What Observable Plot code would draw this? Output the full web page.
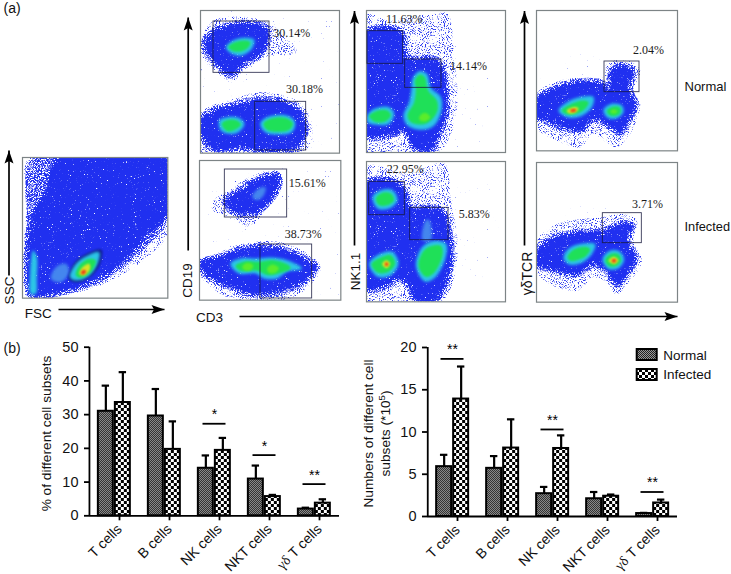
<!DOCTYPE html>
<html>
<head>
<meta charset="utf-8">
<script src="https://cdn.jsdelivr.net/npm/d3@7"></script>
<script src="https://cdn.jsdelivr.net/npm/@observablehq/plot@0.6"></script>
<style>
html,body{margin:0;padding:0;background:#fff}
#page{position:relative;width:731px;height:574px;overflow:hidden;background:#fff}
#page svg{position:absolute}
.fuzz{filter:url(#fuzz)}
.dots{filter:url(#dots)}
.dense{filter:url(#dense)}
.far{filter:url(#far)}
.soft{filter:url(#soft)}
.softer{filter:url(#softer)}
</style>
</head>
<body>
<div id="page">
<svg width="0" height="0" style="position:absolute">
<defs>
<pattern id="fine" width="2" height="2" patternUnits="userSpaceOnUse">
<rect width="2" height="2" fill="#9a9a9a"/><rect width="1" height="1" fill="#222"/><rect x="1" y="1" width="1" height="1" fill="#222"/>
</pattern>
<pattern id="coarse" width="6" height="6" patternUnits="userSpaceOnUse">
<rect width="6" height="6" fill="#fff"/><rect width="3" height="3" fill="#000"/><rect x="3" y="3" width="3" height="3" fill="#000"/>
</pattern>
<filter id="fuzz" x="-15%" y="-15%" width="130%" height="130%" color-interpolation-filters="sRGB">
<feTurbulence type="fractalNoise" baseFrequency="0.85" numOctaves="2" seed="4" result="n"/>
<feDisplacementMap in="SourceGraphic" in2="n" scale="10" xChannelSelector="R" yChannelSelector="G" result="d"/>
<feColorMatrix in="n" type="matrix" values="0 0 0 0 0 0 0 0 0 0 0 0 0 0 0 0 9 0 0 -2.1" result="m"/>
<feComposite in="d" in2="m" operator="in"/>
</filter>
<filter id="dense" x="-15%" y="-15%" width="130%" height="130%" color-interpolation-filters="sRGB">
<feTurbulence type="fractalNoise" baseFrequency="0.95" numOctaves="2" seed="7" result="n"/>
<feColorMatrix in="n" type="matrix" values="0 0 0 0 0 0 0 0 0 0 0 0 0 0 0 7 0 0 0 -3.0" result="m"/>
<feComposite in="SourceGraphic" in2="m" operator="in"/>
</filter>
<filter id="dots" x="-5%" y="-5%" width="110%" height="110%" color-interpolation-filters="sRGB">
<feTurbulence type="fractalNoise" baseFrequency="0.95" numOctaves="2" seed="9" result="n"/>
<feColorMatrix in="n" type="matrix" values="0 0 0 0 0 0 0 0 0 0 0 0 0 0 0 7 0 0 0 -3.8" result="m"/>
<feComposite in="SourceGraphic" in2="m" operator="in"/>
</filter>
<filter id="far" x="-5%" y="-5%" width="110%" height="110%" color-interpolation-filters="sRGB">
<feTurbulence type="fractalNoise" baseFrequency="0.6" numOctaves="1" seed="21" result="n"/>
<feColorMatrix in="n" type="matrix" values="0 0 0 0 0 0 0 0 0 0 0 0 0 0 0 9 0 0 0 -6.6" result="m"/>
<feComposite in="SourceGraphic" in2="m" operator="in"/>
</filter>
<filter id="soft" x="-20%" y="-20%" width="140%" height="140%" color-interpolation-filters="sRGB">
<feGaussianBlur stdDeviation="0.9"/>
</filter>
<filter id="softer" x="-20%" y="-20%" width="140%" height="140%" color-interpolation-filters="sRGB">
<feGaussianBlur stdDeviation="1.5"/>
</filter>
</defs>
</svg>
</div>
<script>
// ---------- bar chart values ----------
const cellTypes = ["T cells", "B cells", "NK cells", "NKT cells", "γδ T cells"];
const groups = ["Normal", "Infected"];
const pctNormal = [31.0, 29.6, 14.1, 10.9, 2.0];
const pctInfected = [33.6, 19.7, 19.4, 5.7, 3.75];
const pctNormalTop = [38.6, 37.6, 17.9, 14.9, 2.4];
const pctInfectedTop = [42.6, 28.0, 23.1, 6.2, 4.9];
const pctSig = [["NK cells", 27.3, "*"], ["NKT cells", 18.0, "*"], ["γδ T cells", 9.4, "**"]];
const numNormal = [5.9, 5.7, 2.7, 2.1, 0.35];
const numInfected = [13.9, 8.1, 8.05, 2.4, 1.6];
const numNormalTop = [7.3, 7.15, 3.5, 2.9, 0.43];
const numInfectedTop = [17.75, 11.5, 9.6, 2.6, 2.0];
const numSig = [["T cells", 18.65, "**"], ["NK cells", 10.3, "**"], ["γδ T cells", 2.9, "**"]];

// ---------- flow cytometry populations (outlines, in plot units) ----------
const fscShapes = [
  ["halo", [[85,472],[500,472],[500,700],[420,785],[320,845],[220,878],[90,893],[72,880],[78,600]]],
  ["dense", [[88,480],[180,472],[500,472],[500,660],[430,745],[380,790],[300,845],[200,880],[95,890],[82,700]]],
  ["body", [[135,570],[150,510],[175,472],[500,472],[500,640],[440,705],[380,770],[300,830],[200,868],[100,886],[87,878],[85,700],[100,630]]],
  ["pale", [[150,835],[165,800],[195,790],[205,815],[180,845]]],
  ["cyan", [[90,880],[88,820],[97,750],[108,770],[108,830],[105,880]]],
  ["navy", [[203,835],[222,785],[260,758],[302,748],[296,795],[262,834],[225,846]]],
  ["cyan", [[207,830],[225,790],[260,765],[295,755],[290,790],[262,828],[225,840]]],
  ["green", [[225,825],[235,795],[265,775],[285,780],[270,815],[240,832]]],
  ["yellow", [[235,820],[245,800],[265,790],[268,805],[250,825]]],
  ["red", [[240,818],[248,808],[256,812],[248,822]]]
];
const cd19nShapes = [
  ["far", [[640,35],[1010,35],[1010,450],[925,455],[900,250],[601,290]]],
  ["halo", [[601,130],[640,60],[770,55],[830,85],[890,155],[800,170],[730,210],[695,245],[650,215],[610,175]]],
  ["halo", [[601,340],[700,295],[780,275],[880,295],[925,340],[935,420],[900,458],[601,458]]],
  ["body", [[612,130],[640,95],[700,72],[770,72],[800,85],[805,115],[775,165],[730,190],[690,225],[660,200],[630,170]]],
  ["body", [[601,360],[640,330],[700,315],[760,300],[830,300],[890,325],[915,370],[905,420],[880,445],[780,450],[720,440],[650,450],[605,410]]],
  ["cyan", [[677,140],[695,122],[730,112],[762,118],[755,145],[725,165],[695,160]]],
  ["green", [[685,140],[700,127],[730,120],[750,125],[745,140],[725,152],[700,152]]],
  ["cyan", [[657,360],[680,350],[715,352],[733,370],[715,395],[685,400],[662,390]]],
  ["green", [[665,370],[685,358],[710,360],[722,372],[705,388],[680,392]]],
  ["cyan", [[780,370],[800,350],[860,345],[885,365],[875,395],[830,402],[795,395]]],
  ["green", [[790,370],[810,355],[855,352],[878,368],[868,388],[830,394],[800,388]]]
];
const cd19iShapes = [
  ["far", [[620,560],[850,500],[1010,500],[1010,890],[950,890],[960,760],[640,740]]],
  ["halo", [[640,600],[680,575],[730,540],[820,510],[845,530],[835,575],[800,625],[745,680],[690,650],[635,630]]],
  ["halo", [[597,790],[660,755],[730,730],[830,725],[920,760],[960,800],[935,850],[860,898],[700,898],[630,860],[597,820]]],
  ["body", [[675,600],[720,570],[790,530],[830,525],[835,555],[800,610],[760,640],[720,640],[690,630]]],
  ["body", [[600,790],[660,770],[730,745],[830,745],[900,770],[945,800],[925,830],[880,860],[810,880],[750,880],[690,860],[620,825]]],
  ["pale", [[755,590],[775,565],[795,562],[790,585],[770,600]]],
  ["cyan", [[690,790],[720,775],[770,775],[810,772],[860,780],[905,805],[860,815],[830,835],[790,835],[765,820],[715,820]]],
  ["green", [[705,797],[735,783],[775,785],[820,780],[865,795],[870,805],[835,820],[800,825],[770,812],[720,812]]],
  ["bright", [[725,800],[740,788],[758,795],[750,810],[732,810]]],
  ["bright", [[800,805],[815,793],[835,803],[825,818],[805,818]]]
];
const nknShapes = [
  ["far", [[300,120],[440,240],[440,400],[320,440]]],
  ["halo", [[47,40],[110,60],[170,50],[250,40],[290,40],[310,170],[320,300],[300,400],[260,456],[47,456]]],
  ["body", [[47,95],[150,95],[170,170],[260,180],[285,270],[285,340],[265,400],[240,450],[195,445],[160,390],[130,400],[47,405]]],
  ["cyan", [[50,345],[70,325],[115,320],[130,340],[115,370],[75,373],[50,365]]],
  ["green", [[55,347],[75,332],[110,330],[120,345],[105,362],[75,365]]],
  ["cyan", [[185,235],[205,212],[228,220],[240,262],[270,290],[272,330],[250,375],[215,388],[170,375],[158,345],[175,305],[182,265]]],
  ["green", [[192,240],[207,222],[222,230],[232,270],[258,300],[260,330],[240,360],[215,372],[180,365],[170,345],[190,305],[195,265]]],
  ["bright", [[205,350],[222,337],[238,350],[225,362],[208,360]]]
];
const nkiShapes = [
  ["far", [[300,560],[440,570],[440,730],[400,830],[320,780]]],
  ["halo", [[47,500],[170,520],[280,490],[300,600],[320,720],[310,830],[270,905],[47,905]]],
  ["body", [[47,548],[130,545],[165,580],[175,620],[270,630],[295,700],[300,790],[275,870],[250,905],[200,905],[170,850],[140,835],[100,860],[47,865]]],
  ["pale", [[215,720],[225,660],[235,660],[240,720]]],
  ["cyan", [[65,590],[90,570],[125,570],[140,600],[115,625],[80,625]]],
  ["green", [[75,595],[95,578],[120,580],[130,600],[110,615],[85,615]]],
  ["cyan", [[55,790],[90,760],[125,755],[143,790],[120,825],[80,830]]],
  ["green", [[62,792],[90,772],[120,765],[133,790],[113,815],[82,818]]],
  ["yellow", [[94,792],[106,780],[118,790],[108,804]]],
  ["red", [[102,792],[107,786],[113,792],[107,798]]],
  ["cyan", [[195,790],[215,740],[250,722],[285,730],[285,770],[255,830],[225,845],[205,825]]],
  ["green", [[203,790],[225,745],[270,737],[275,765],[248,820],[225,830],[210,815]]]
];
const gdnShapes = [
  ["far", [[570,240],[640,170],[750,150],[760,220],[650,240]]],
  ["halo", [[559,280],[650,235],[760,230],[770,190],[830,180],[870,210],[850,270],[870,310],[840,400],[800,440],[760,420],[730,400],[690,440],[620,420],[559,380]]],
  ["body", [[559,300],[600,270],[680,245],[760,250],[775,270],[785,210],[815,195],[845,210],[838,270],[855,310],[835,360],[810,395],[770,370],[730,355],[690,390],[640,380],[600,365],[559,345]]],
  ["cyan", [[625,330],[650,305],[700,288],[730,290],[725,320],[690,348],[650,350]]],
  ["green", [[635,330],[660,312],[700,300],[715,305],[705,325],[680,340],[650,342]]],
  ["yellow", [[650,330],[668,320],[685,323],[675,337],[655,338]]],
  ["red", [[660,329],[675,325],[678,331],[665,335]]],
  ["cyan", [[760,328],[785,310],[815,315],[820,335],[795,355],[770,350]]],
  ["green", [[770,330],[790,318],[810,322],[810,338],[790,347],[775,342]]],
  ["bright", [[780,333],[790,326],[802,332],[792,340]]]
];
const gdiShapes = [
  ["far", [[575,700],[650,620],[760,600],[770,650],[650,680]]],
  ["halo", [[559,720],[620,670],[750,650],[830,640],[860,660],[850,720],[875,780],[840,840],[800,880],[760,840],[730,830],[680,870],[600,850],[559,810]]],
  ["body", [[559,760],[600,715],[680,695],[760,690],[810,670],[845,675],[830,720],[855,770],[830,820],[800,850],[770,810],[730,790],[680,820],[620,810],[559,790]]],
  ["cyan", [[640,770],[660,740],[700,728],[735,730],[725,760],[690,788],[655,790]]],
  ["green", [[652,768],[672,745],[705,738],[720,745],[705,768],[680,778],[660,780]]],
  ["cyan", [[757,775],[775,752],[805,750],[822,775],[805,802],[775,805]]],
  ["green", [[765,778],[780,760],[805,760],[813,778],[800,795],[778,797]]],
  ["yellow", [[775,780],[790,768],[805,778],[792,790]]],
  ["red", [[784,780],[792,774],[799,780],[791,786]]]
];

// gates: [x1, y1, x2, y2]; labels: [text, x, y]
const fscGates = [], fscLabels = [];
const cd19nGates = [[640,63,808,217],[765,304,918,450]];
const cd19nLabels = [["30.14%",875,97],["30.18%",913,266]];
const cd19iGates = [[673,508,860,652],[780,733,935,895]];
const cd19iLabels = [["15.61%",920,548],["38.73%",908,703]];
const nknGates = [[50,92,157,190],[163,177,272,262]];
const nknLabels = [["11.63%",160,57],["14.14%",353,198]];
const nkiGates = [[55,545,162,645],[178,623,293,720]];
const nkiLabels = [["22.95%",163,508],["5.83%",370,643]];
const gdnGates = [[763,183,868,275]];
const gdnLabels = [["2.04%",895,150]];
const gdiGates = [[758,637,875,727]];
const gdiLabels = [["3.71%",892,610]];

// figure annotations, in page pixels
const figureText = [
  ["(a)",3,8,"start",0,14],["(b)",3,348,"start",0,14],
  ["SSC",9.5,290,"middle",-90,13.5],["FSC",37.7,313,"middle",0,13.5],
  ["CD19",187.5,280,"middle",-90,13.5],["CD3",209,317,"middle",0,13.5],
  ["NK1.1",355,271,"middle",-90,13.5],["γδTCR",527,273,"middle",-90,14],
  ["Normal",684,86,"start",0,13],["Infected",684,226,"start",0,12.8],
  ["% of different cell subsets",46,433,"middle",-90,13.7],
  ["Numbers of different cell",368,433,"middle",-90,13.7],
  ["subsets (*10",385,433,"middle",-90,13.7],
  ["Normal",662.7,355,"start",0,13.5],["Infected",662.7,374.5,"start",0,13.5]
];
const figureArrows = [
  [8.5,275,8.5,150,0],[58,309,164,309,90],[187.7,250,187.7,17,0],
  [239,316,677,316,90],[354,245,354,10.5,0],[524,245,524,10.5,0]
];
const legendKeys = [[636.7,349,656.7,360,"url(#fine)"],[636.7,369,656.7,380,"url(#coarse)"]];

// ---------- drawing ----------
const page = document.getElementById("page");
const SANS = "'Liberation Sans', Arial, sans-serif";
const SERIF = "'Liberation Serif', 'Times New Roman', serif";
const looks = {
  far:   {fill:"#3a4af0", className:"far"},
  halo:  {fill:"#2c3cf0", className:"dots"},
  dense: {fill:"#2030f0", className:"dense"},
  body:  {fill:"#2030f0", className:"fuzz"},
  pale:  {fill:"#4486ee", className:"softer"},
  navy:  {fill:"#101c90", className:"soft"},
  cyan:  {fill:"#2cc6e6", className:"softer"},
  green: {fill:"#1fe058", className:"soft"},
  bright:{fill:"#5cec2a", className:"soft"},
  yellow:{fill:"#d8e424", className:"soft"},
  red:   {fill:"#ec3a18", className:"soft"}
};
function put(svg, left, top) {
  svg.style.position = "absolute";
  svg.style.left = left + "px";
  svg.style.top = top + "px";
  svg.style.background = "transparent";
  svg.style.maxWidth = "none";
  page.appendChild(svg);
  return svg;
}
function flowPanel(originX, x0, x1, y0, y1, shapes, gates, labels) {
  const m = 1;
  const wide = (x1 - x0) / 3, high = (y1 - y0) / 3;
  const mark = [];
  for (const [kind, pts] of shapes) {
    if (kind === "body") {
      mark.push(Plot.line(pts, {curve:"catmull-rom-closed", fill:"#2030f0", stroke:"#2030f0", strokeWidth:7, className:"dense", clip:"frame"}));
    }
    mark.push(Plot.line(pts, {curve:"catmull-rom-closed", stroke:"none", clip:"frame", ...looks[kind]}));
  }
  mark.push(Plot.frame({stroke:"#7d8486", strokeWidth:1.2}));
  mark.push(Plot.rect(gates, {x1:d=>d[0], y1:d=>d[1], x2:d=>d[2], y2:d=>d[3], fill:"none", stroke:"#15183c", strokeOpacity:0.85, strokeWidth:0.9}));
  const plot = Plot.plot({
    width: wide + 2*m, height: high + 2*m, margin: m,
    x:{domain:[x0,x1], axis:null}, y:{domain:[y1,y0], axis:null},
    style:{overflow:"visible"},
    marks: mark.concat([
      Plot.text(labels, {text:d=>d[0], x:d=>d[1], y:d=>d[2], fontFamily:SERIF, fontSize:12, fontWeight:500, fill:"#1c1c1c"})
    ])
  });
  return put(plot, originX + x0/3 - m, y0/3 - m);
}
flowPanel(0,65,501,471,893,fscShapes,fscGates,fscLabels);
flowPanel(0,601,1018,30,458,cd19nShapes,cd19nGates,cd19nLabels);
flowPanel(0,597,1021,481,900,cd19iShapes,cd19iGates,cd19iLabels);
flowPanel(350,47,464,30,456,nknShapes,nknGates,nknLabels);
flowPanel(350,47,464,484,905,nkiShapes,nkiGates,nkiLabels);
flowPanel(350,559,982,30,451,gdnShapes,gdnGates,gdnLabels);
flowPanel(350,559,982,485,904,gdiShapes,gdiGates,gdiLabels);

function barChart(left, top, width, height, axisLeft, axisRight, zeroY, topY, yMax, yTicks, sets, sig) {
  const rows = cellTypes.flatMap((c,i) => [
    {cat:c, group:"Normal", value:sets[0][i], high:sets[2][i]},
    {cat:c, group:"Infected", value:sets[1][i], high:sets[3][i]}
  ]);
  const plot = Plot.plot({
    width, height, style:{fontFamily:SANS, color:"#111"},
    marginLeft: axisLeft - left, marginRight: left + width - axisRight,
    marginTop: topY - top, marginBottom: top + height - zeroY,
    fx:{domain:cellTypes, padding:0, axis:null},
    x:{domain:groups, paddingInner:0.1, paddingOuter:0.487, axis:null},
    y:{domain:[0,yMax], axis:null},
    marks:[
      Plot.ruleX(rows, {fx:"cat", x:"group", y1:"value", y2:"high", stroke:"#000", strokeWidth:2.2}),
      Plot.tickY(rows, {fx:"cat", x:"group", y:"high", stroke:"#000", strokeWidth:2.2, insetLeft:3.8, insetRight:3.8}),
      Plot.barY(rows.filter(d=>d.group==="Normal"), {fx:"cat", x:"group", y:"value", fill:"url(#fine)", stroke:"#000", strokeWidth:2}),
      Plot.barY(rows.filter(d=>d.group==="Infected"), {fx:"cat", x:"group", y:"value", fill:"url(#coarse)", stroke:"#000", strokeWidth:2}),
      Plot.ruleY([0], {stroke:"#000", strokeWidth:1.8}),
      Plot.ruleY(sig, {fx:d=>d[0], y:d=>d[1], stroke:"#000", strokeWidth:1.8, insetLeft:13.5, insetRight:13.5}),
      Plot.text(sig, {fx:d=>d[0], y:d=>d[1], text:d=>d[2], dy:-9, fontSize:14, fill:"#000"}),
      Plot.ruleX(["Normal"], {fx:()=>cellTypes[0], x:d=>d, y1:0, y2:yMax, dx:-16.4, stroke:"#000", strokeWidth:1.8}),
      Plot.axisY({ticks:yTicks, tickSize:5, tickPadding:6, fontSize:14.5, label:null, strokeWidth:1.8, stroke:"#000", fill:"#111"}),
      Plot.axisFx({anchor:"bottom", tickSize:5, tickPadding:6, tickRotate:-45, fontSize:14, label:null, strokeWidth:1.8, stroke:"#000", fill:"#111", dx:5})
    ]
  });
  put(plot, left, top);
  plot.querySelectorAll("text").forEach(t => {
    const s = [...t.querySelectorAll("tspan")].pop() || t;
    if (s.textContent === "γδ T cells") s.innerHTML = '<tspan font-family="Liberation Serif">γδ</tspan> T cells';
  });
}
barChart(0,330,360,244,88.15,339.65,515.3,346.7,50,[0,10,20,30,40,50],[pctNormal,pctInfected,pctNormalTop,pctInfectedTop],pctSig);
barChart(365,330,360,244,425.85,677.35,516,347,20,[0,5,10,15,20],[numNormal,numInfected,numNormalTop,numInfectedTop],numSig);

const arrowHead = {draw(ctx){ctx.moveTo(0,0);ctx.lineTo(4.5,13);ctx.lineTo(0,10.5);ctx.lineTo(-4.5,13);ctx.closePath();}};
const overlay = put(Plot.plot({
  width:731, height:574, margin:0,
  x:{domain:[0,731], axis:null}, y:{domain:[574,0], axis:null},
  style:{fontFamily:SANS, pointerEvents:"none"},
  marks:[
    Plot.link(figureArrows, {x1:d=>d[0], y1:d=>d[1], x2:d=>d[2], y2:d=>d[3], stroke:"#000", strokeWidth:1.7}),
    Plot.dot(figureArrows, {x:d=>d[2], y:d=>d[3], symbol:arrowHead, rotate:d=>d[4], fill:"#000", stroke:"none"}),
    Plot.rect(legendKeys, {x1:d=>d[0], y1:d=>d[1], x2:d=>d[2], y2:d=>d[3], fill:d=>d[4], stroke:"#000", strokeWidth:2}),
    ...figureText.map(t => Plot.text([t], {x:d=>d[1], y:d=>d[2], text:d=>d[0], textAnchor:t[3], rotate:t[4], fontSize:t[5], fill:"#111"}))
  ],
  color:{type:"identity"}
}), 0, 0);
overlay.querySelectorAll("text").forEach(t => {
  const s = [...t.querySelectorAll("tspan")].pop() || t;
  if (s.textContent === "subsets (*10") s.innerHTML = 'subsets (*10<tspan dy="-5" font-size="9.5">5</tspan><tspan dy="5">)</tspan>';
});
</script>
</body>
</html>
